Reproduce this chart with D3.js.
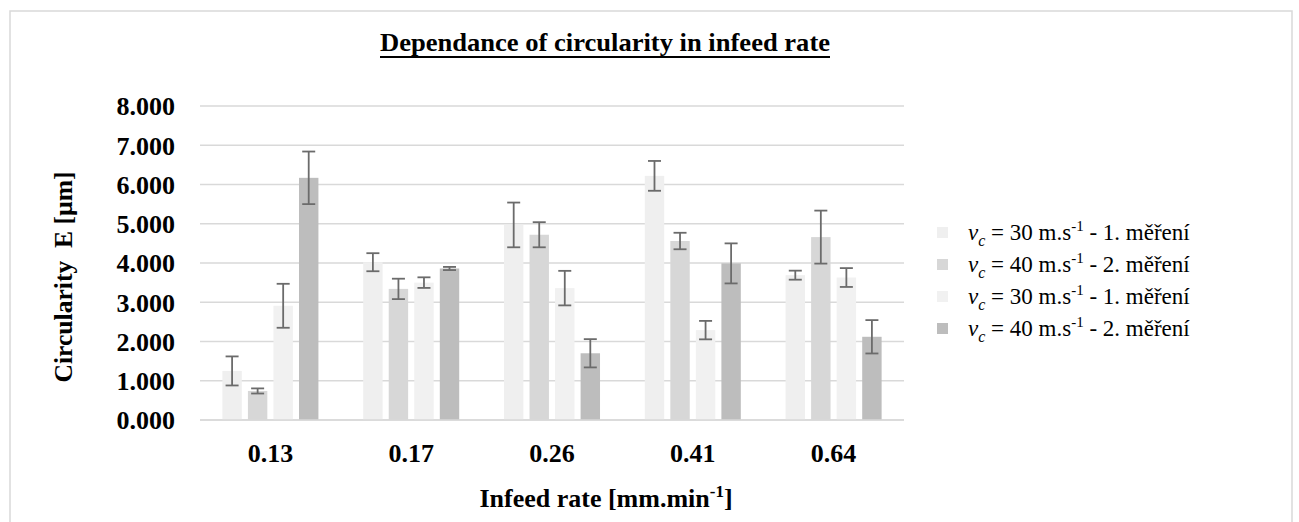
<!DOCTYPE html>
<html>
<head>
<meta charset="utf-8">
<script src="https://cdn.jsdelivr.net/npm/d3@7"></script>
<style>
  html, body { margin: 0; padding: 0; background: #ffffff; }
  svg { display: block; font-family: "Liberation Serif", "Times New Roman", serif; }
</style>
</head>
<body>
<svg id="chart" width="1299" height="522"></svg>
<script>
// ---- data ----
const categories = ["0.13", "0.17", "0.26", "0.41", "0.64"];
const seriesSpeed = ["30", "40", "30", "40"];
const seriesRun = ["1. měření", "2. měření", "1. měření", "2. měření"];
const series1 = [1.25, 4.02, 4.97, 6.22, 3.69];
const series2 = [0.74, 3.34, 4.72, 4.56, 4.66];
const series3 = [2.91, 3.50, 3.36, 2.29, 3.63];
const series4 = [6.17, 3.86, 1.70, 3.99, 2.12];
const error1 = [0.37, 0.23, 0.57, 0.38, 0.115];
const error2 = [0.065, 0.26, 0.32, 0.21, 0.675];
const error3 = [0.56, 0.135, 0.44, 0.235, 0.24];
const error4 = [0.67, 0.04, 0.36, 0.51, 0.425];
const yTicks = [0, 1, 2, 3, 4, 5, 6, 7, 8];
const titleText = "Dependance of circularity in infeed rate";
const yTitleText = "Circularity\u00a0\u00a0E [µm]";

// ---- styles ----
const colors = ["#efefef", "#d7d7d7", "#f1f1f1", "#bdbdbd"];
const values = [series1, series2, series3, series4];
const errors = [error1, error2, error3, error4];

const svg = d3.select("#chart");

// outer frame
svg.append("rect")
  .attr("x", 10).attr("y", 11).attr("width", 1282).attr("height", 530)
  .attr("fill", "#ffffff").attr("stroke", "#d9d9d9").attr("stroke-width", 1.5);

const plot = { left: 200, right: 904, top: 106, bottom: 420 };

const y = d3.scaleLinear().domain([0, 8]).range([plot.bottom, plot.top]);
const x0 = d3.scaleBand().domain(categories).range([plot.left, plot.right]).padding(0);
const groupPad = x0.bandwidth() * 0.159;
const x1 = d3.scaleBand().domain(d3.range(4))
  .range([groupPad, x0.bandwidth() - groupPad]).paddingInner(0.24).paddingOuter(0);

// gridlines
svg.append("g")
  .selectAll("line")
  .data(yTicks)
  .join("line")
  .attr("x1", plot.left).attr("x2", plot.right)
  .attr("y1", d => y(d)).attr("y2", d => y(d))
  .attr("stroke", "#d9d9d9").attr("stroke-width", 1.4);

// y tick labels
const yAxis = d3.axisLeft(y).tickValues(yTicks).tickFormat(d3.format(".3f")).tickSize(0).tickPadding(0);
const yg = svg.append("g").attr("transform", `translate(175,0)`).call(yAxis);
yg.select(".domain").remove();
yg.selectAll("text")
  .attr("font-family", "'Liberation Serif', 'Times New Roman', serif")
  .attr("font-size", 26).attr("font-weight", "bold").attr("fill", "#000")
  .attr("dy", "0.34em");

// x tick labels
const xAxis = d3.axisBottom(x0).tickSize(0).tickPadding(0);
const xg = svg.append("g").attr("transform", `translate(0,${plot.bottom})`).call(xAxis);
xg.select(".domain").remove();
xg.selectAll("text")
  .attr("font-family", "'Liberation Serif', 'Times New Roman', serif")
  .attr("font-size", 26).attr("font-weight", "bold").attr("fill", "#000")
  .attr("y", 42).attr("dy", 0);

// bars
const groups = svg.append("g").selectAll("g")
  .data(categories)
  .join("g")
  .attr("transform", d => `translate(${x0(d)},0)`);

groups.selectAll("rect")
  .data((d, i) => values.map((s, k) => ({ k, v: s[i], e: errors[k][i] })))
  .join("rect")
  .attr("x", d => x1(d.k))
  .attr("width", x1.bandwidth())
  .attr("y", d => y(d.v))
  .attr("height", d => y(0) - y(d.v))
  .attr("fill", d => colors[d.k]);

// error bars
const eb = groups.selectAll("g.err")
  .data((d, i) => values.map((s, k) => ({ k, v: s[i], e: errors[k][i] })))
  .join("g").attr("class", "err")
  .attr("stroke", "#6b6b6b").attr("stroke-width", 1.8).attr("fill", "none");
const cap = 6.5;
eb.append("line")
  .attr("x1", d => x1(d.k) + x1.bandwidth() / 2).attr("x2", d => x1(d.k) + x1.bandwidth() / 2)
  .attr("y1", d => y(d.v + d.e)).attr("y2", d => y(d.v - d.e));
eb.append("line")
  .attr("x1", d => x1(d.k) + x1.bandwidth() / 2 - cap).attr("x2", d => x1(d.k) + x1.bandwidth() / 2 + cap)
  .attr("y1", d => y(d.v + d.e)).attr("y2", d => y(d.v + d.e));
eb.append("line")
  .attr("x1", d => x1(d.k) + x1.bandwidth() / 2 - cap).attr("x2", d => x1(d.k) + x1.bandwidth() / 2 + cap)
  .attr("y1", d => y(d.v - d.e)).attr("y2", d => y(d.v - d.e));

// baseline
svg.append("line")
  .attr("x1", plot.left).attr("x2", plot.right)
  .attr("y1", y(0)).attr("y2", y(0))
  .attr("stroke", "#d9d9d9").attr("stroke-width", 1.4);

// title
svg.append("text")
  .attr("x", 605).attr("y", 51).attr("text-anchor", "middle")
  .attr("font-size", 26).attr("font-weight", "bold")
  .attr("textLength", 450).attr("lengthAdjust", "spacingAndGlyphs")
  .text(titleText);
svg.append("line")
  .attr("x1", 380).attr("x2", 830).attr("y1", 57).attr("y2", 57)
  .attr("stroke", "#000").attr("stroke-width", 2);

// y axis title
svg.append("text")
  .attr("transform", "translate(72,277) rotate(-90)")
  .attr("text-anchor", "middle")
  .attr("font-size", 26).attr("font-weight", "bold")
  .attr("textLength", 211).attr("lengthAdjust", "spacingAndGlyphs")
  .text(yTitleText);

// x axis title
const xt = svg.append("text")
  .attr("x", 606).attr("y", 507).attr("text-anchor", "middle")
  .attr("font-size", 26).attr("font-weight", "bold");
xt.append("tspan").text("Infeed rate [mm.min");
xt.append("tspan").attr("font-size", 17).attr("dy", -10).text("-1");
xt.append("tspan").attr("dy", 10).text("]");

// legend
const legend = svg.append("g").attr("transform", "translate(937,240)");
const rows = legend.selectAll("g")
  .data(d3.range(4))
  .join("g")
  .attr("transform", k => `translate(0,${k * 32})`);
rows.append("rect")
  .attr("x", 0).attr("y", -13).attr("width", 11).attr("height", 11)
  .attr("fill", k => colors[k]);
const lt = rows.append("text")
  .attr("x", 31).attr("y", 0)
  .attr("font-size", 23).attr("fill", "#000");
lt.append("tspan").attr("font-style", "italic").text("v");
lt.append("tspan").attr("font-style", "italic").attr("font-size", 16).attr("dy", 6).text("c");
lt.append("tspan").attr("dy", -6).text(k => "\u00a0=\u00a0" + seriesSpeed[k] + "\u00a0m.s");
lt.append("tspan").attr("font-size", 15).attr("dy", -9).text("-1");
lt.append("tspan").attr("dy", 9).text(k => "\u00a0-\u00a0" + seriesRun[k]);
</script>
</body>
</html>
